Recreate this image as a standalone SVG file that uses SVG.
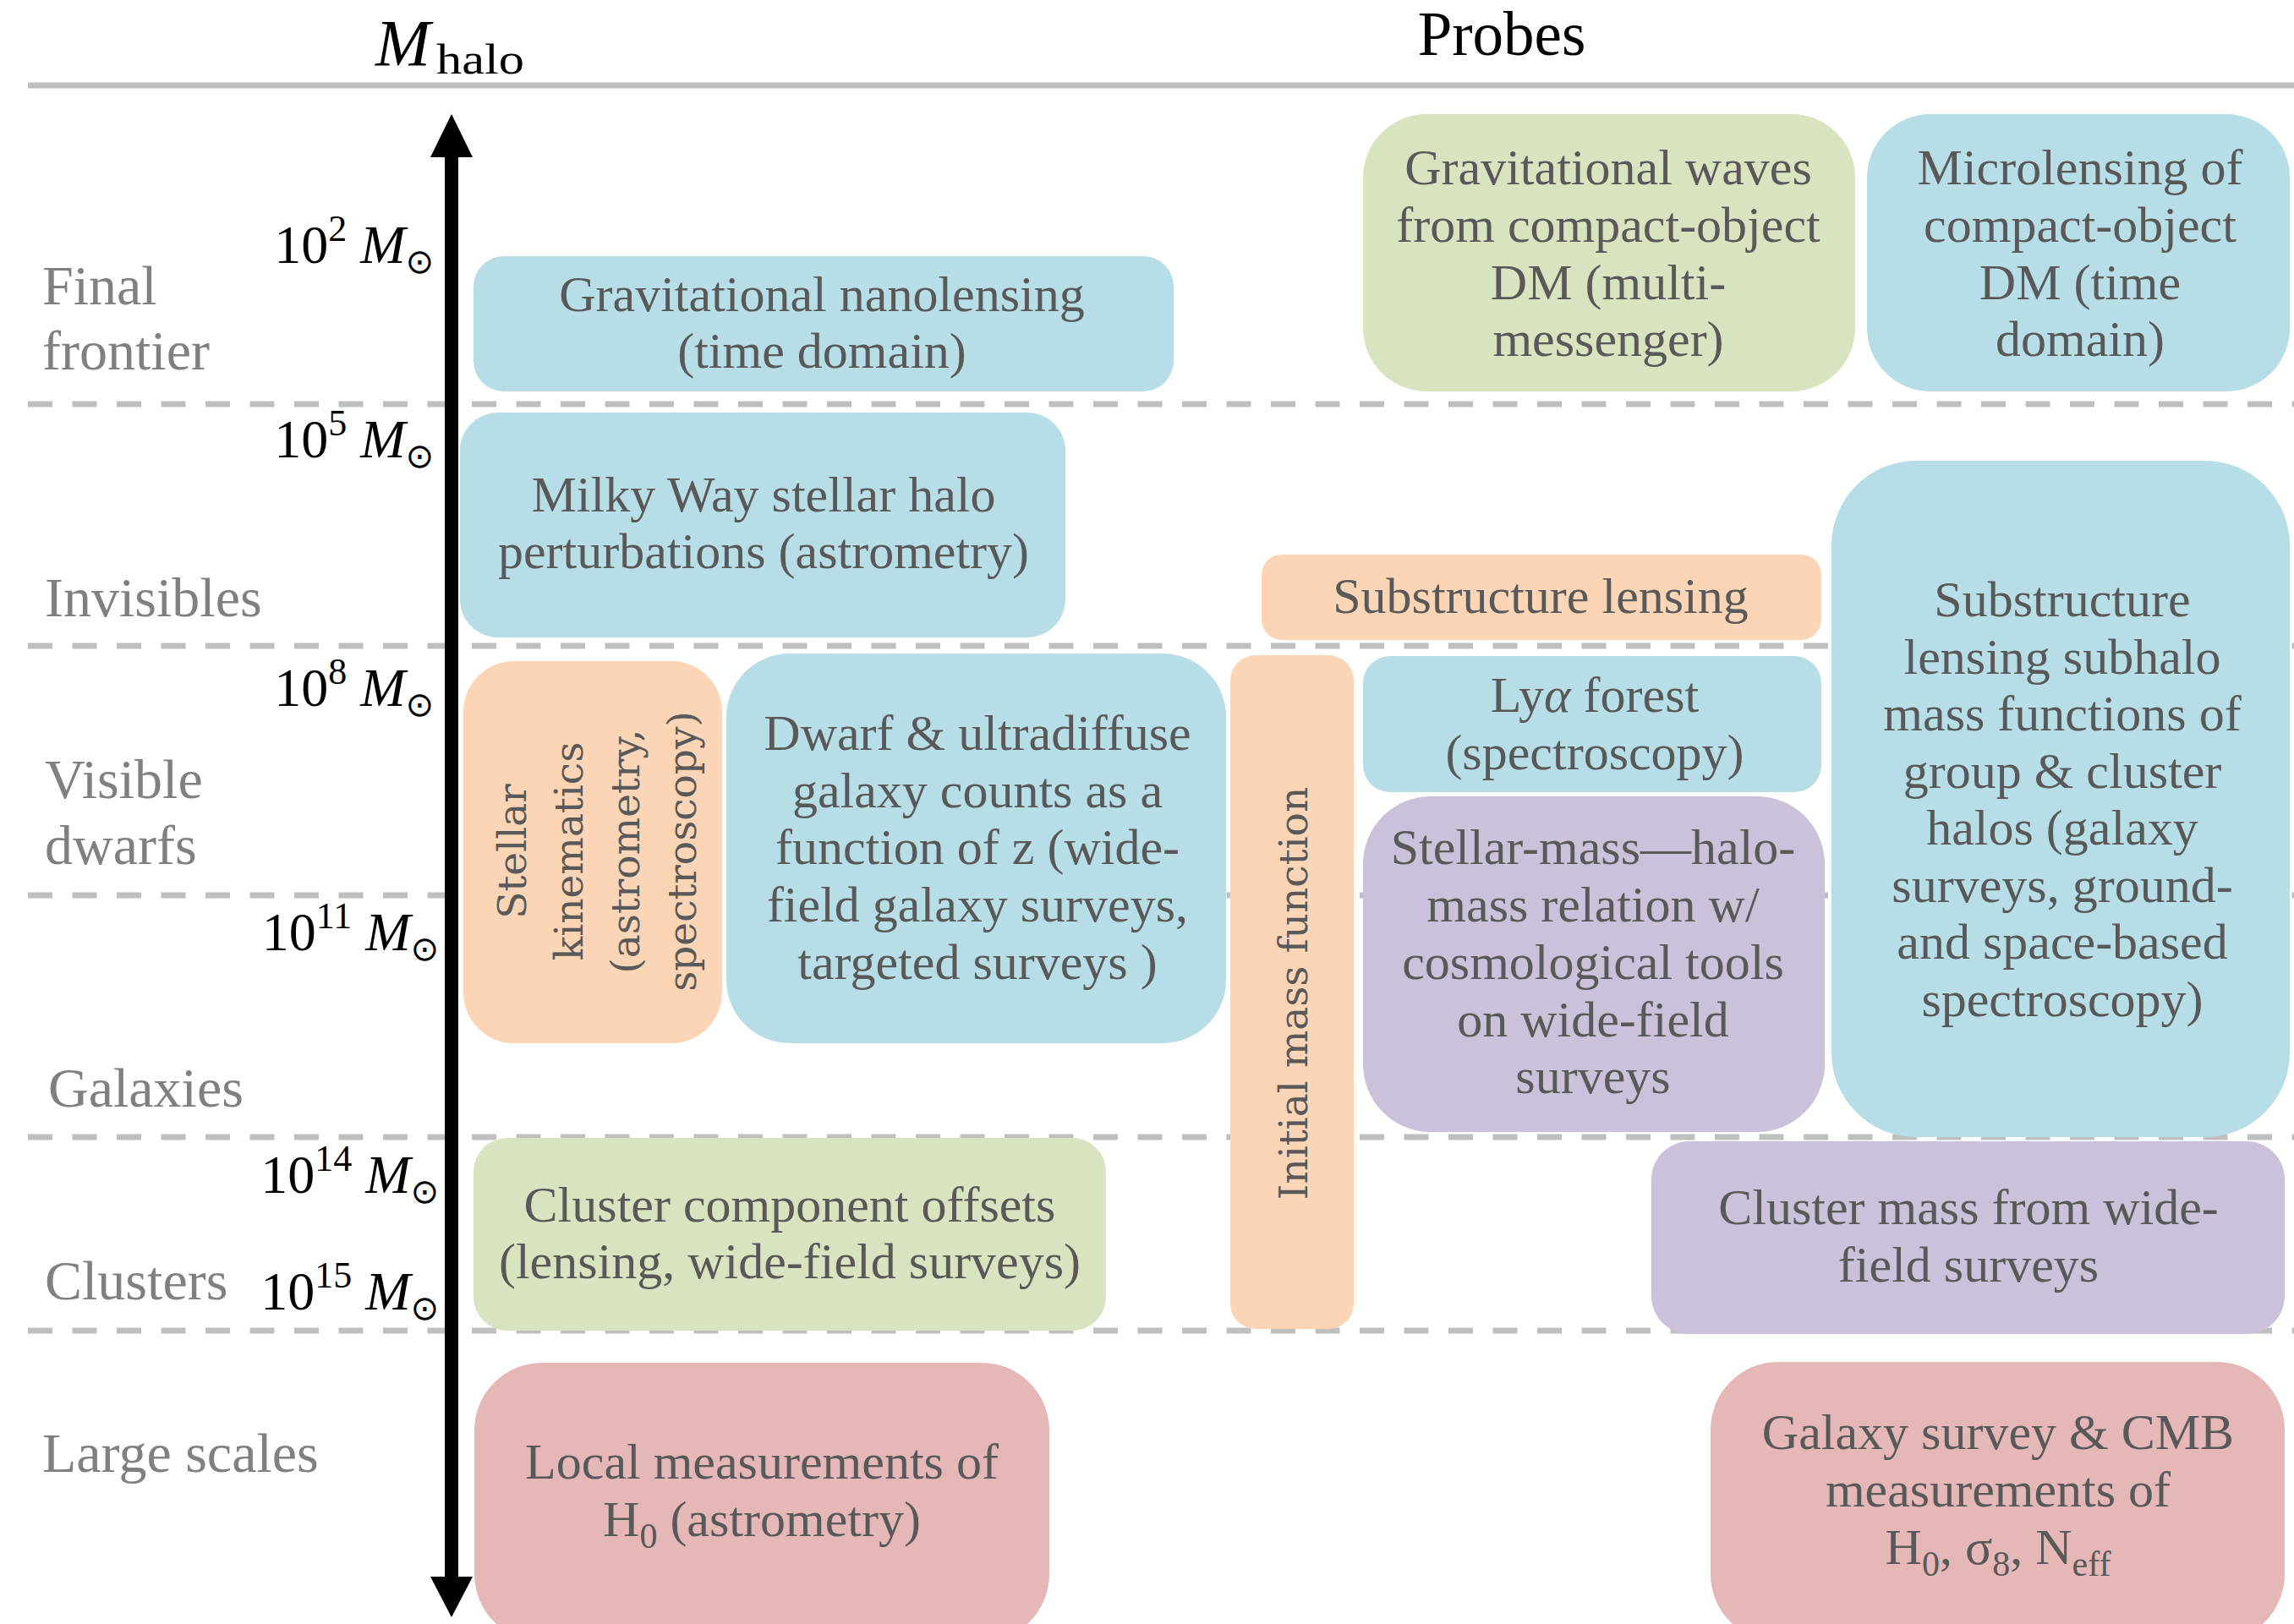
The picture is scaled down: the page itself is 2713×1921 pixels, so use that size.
<svg xmlns="http://www.w3.org/2000/svg" width="2713" height="1921" viewBox="0 0 2713 1921">
<style>
.bg{fill:#ffffff}
.blue{fill:#b7dde7}
.green{fill:#d8e4bf}
.orange{fill:#fbd5b5}
.purple{fill:#ccc1da}
.red{fill:#e5b8b7}
.t{font-family:"Liberation Serif","Times New Roman",serif;font-size:60px;fill:#595959;text-anchor:middle}
.r{font-family:"DejaVu Serif",serif;font-size:47px;fill:#595959;text-anchor:middle}
.sb{font-size:42px}
.lab{font-family:"Liberation Serif","Times New Roman",serif;font-size:66px;fill:#808080}
.mass{font-family:"Liberation Serif","Times New Roman",serif;font-size:64px;fill:#000;text-anchor:end}
.sup{font-size:44px}
.it{font-style:italic}
.sun{font-family:"DejaVu Sans",sans-serif;font-size:40px}
.dash{stroke:#bfbfbf;stroke-width:7;stroke-dasharray:29 23.5;fill:none}
.head{font-family:"Liberation Serif","Times New Roman",serif;fill:#000}
</style>
<rect class="bg" x="0" y="0" width="2713" height="1921"/>

<g id="header">
<line x1="33" y1="101" x2="2713" y2="101" stroke="#bfbfbf" stroke-width="7"/>
<text class="head" x="444" y="77" font-size="78" font-style="italic">M</text>
<text class="head" x="516" y="87" font-size="50" textLength="104" lengthAdjust="spacingAndGlyphs">halo</text>
<text class="head" x="1776" y="65" font-size="73" text-anchor="middle">Probes</text>
</g>

<g id="connectors">
<line class="dash" x1="33" y1="478" x2="2713" y2="478"/>
<line class="dash" x1="33" y1="764" x2="2713" y2="764"/>
<line class="dash" x1="33" y1="1059" x2="2713" y2="1059"/>
<line class="dash" x1="33" y1="1345" x2="2713" y2="1345"/>
<line class="dash" x1="33" y1="1574" x2="2713" y2="1574"/>
<g id="axis">
<rect x="526" y="184" width="16" height="1683" fill="#000"/>
<polygon points="534,135 559,186 509,186" fill="#000"/>
<polygon points="534,1913 559,1865 509,1865" fill="#000"/>
</g>
</g>

<g id="region-labels">
<text class="lab" x="50" y="360">Final</text>
<text class="lab" x="50" y="437">frontier</text>
<text class="lab" x="53" y="729">Invisibles</text>
<text class="lab" x="53" y="944">Visible</text>
<text class="lab" x="53" y="1022">dwarfs</text>
<text class="lab" x="57" y="1309">Galaxies</text>
<text class="lab" x="53" y="1537">Clusters</text>
<text class="lab" x="50" y="1741">Large scales</text>
</g>

<g id="mass-labels">
<text class="mass" x="513" y="311">10<tspan class="sup" dy="-26">2</tspan><tspan dy="26"> </tspan><tspan class="it">M</tspan><tspan class="sun" dy="12">⊙</tspan></text>
<text class="mass" x="513" y="541">10<tspan class="sup" dy="-26">5</tspan><tspan dy="26"> </tspan><tspan class="it">M</tspan><tspan class="sun" dy="12">⊙</tspan></text>
<text class="mass" x="513" y="835">10<tspan class="sup" dy="-26">8</tspan><tspan dy="26"> </tspan><tspan class="it">M</tspan><tspan class="sun" dy="12">⊙</tspan></text>
<text class="mass" x="519" y="1124">10<tspan class="sup" dy="-26">11</tspan><tspan dy="26"> </tspan><tspan class="it">M</tspan><tspan class="sun" dy="12">⊙</tspan></text>
<text class="mass" x="519" y="1411">10<tspan class="sup" dy="-26">14</tspan><tspan dy="26"> </tspan><tspan class="it">M</tspan><tspan class="sun" dy="12">⊙</tspan></text>
<text class="mass" x="519" y="1549">10<tspan class="sup" dy="-26">15</tspan><tspan dy="26"> </tspan><tspan class="it">M</tspan><tspan class="sun" dy="12">⊙</tspan></text>
</g>

<g id="node-nanolensing">
<rect class="blue" x="560" y="303" width="828" height="160" rx="36"/>
<text class="t" x="972" y="368">Gravitational nanolensing</text>
<text class="t" x="972" y="435">(time domain)</text>
</g>

<g id="node-gw">
<rect class="green" x="1612" y="135" width="582" height="328" rx="75"/>
<text class="t" x="1902" y="218">Gravitational waves</text>
<text class="t" x="1902" y="286">from compact-object</text>
<text class="t" x="1902" y="354">DM (multi-</text>
<text class="t" x="1902" y="421">messenger)</text>
</g>

<g id="node-microlensing">
<rect class="blue" x="2208" y="135" width="500" height="328" rx="75"/>
<text class="t" x="2460" y="218">Microlensing of</text>
<text class="t" x="2460" y="286">compact-object</text>
<text class="t" x="2460" y="354">DM (time</text>
<text class="t" x="2460" y="421">domain)</text>
</g>

<g id="node-milkyway">
<rect class="blue" x="544" y="488" width="716" height="266" rx="45"/>
<text class="t" x="903" y="605">Milky Way stellar halo</text>
<text class="t" x="903" y="672">perturbations (astrometry)</text>
</g>

<g id="node-substructure">
<rect class="orange" x="1492" y="656" width="662" height="101" rx="24"/>
<text class="t" x="1822" y="725">Substructure lensing</text>
</g>

<g id="node-subhalo-mf">
<rect class="blue" x="2166" y="545" width="542" height="800" rx="100"/>
<text class="t" x="2439" y="729">Substructure</text>
<text class="t" x="2439" y="797">lensing subhalo</text>
<text class="t" x="2439" y="864">mass functions of</text>
<text class="t" x="2439" y="932">group &amp; cluster</text>
<text class="t" x="2439" y="999">halos (galaxy</text>
<text class="t" x="2439" y="1067">surveys, ground-</text>
<text class="t" x="2439" y="1134">and space-based</text>
<text class="t" x="2439" y="1202">spectroscopy)</text>
</g>

<g id="node-stellar-kinematics">
<rect class="orange" x="548" y="782" width="306" height="452" rx="60"/>
<text class="r" transform="translate(622,1007) rotate(-90)">Stellar</text>
<text class="r" transform="translate(689,1007) rotate(-90)">kinematics</text>
<text class="r" transform="translate(756,1007) rotate(-90)">(astrometry,</text>
<text class="r" transform="translate(823,1007) rotate(-90)">spectroscopy)</text>
</g>

<g id="node-dwarf">
<rect class="blue" x="859" y="773" width="591" height="461" rx="75"/>
<text class="t" x="1156" y="887">Dwarf &amp; ultradiffuse</text>
<text class="t" x="1156" y="955">galaxy counts as a</text>
<text class="t" x="1156" y="1022">function of z (wide-</text>
<text class="t" x="1156" y="1090">field galaxy surveys,</text>
<text class="t" x="1156" y="1158">targeted surveys )</text>
</g>

<g id="node-imf">
<rect class="orange" x="1455" y="775" width="146" height="797" rx="30"/>
<text class="r" transform="translate(1546,1175) rotate(-90)">Initial mass function</text>
</g>

<g id="node-lya">
<rect class="blue" x="1612" y="776" width="542" height="161" rx="32"/>
<text class="t" x="1886" y="842">Ly<tspan class="it">α</tspan> forest</text>
<text class="t" x="1886" y="910">(spectroscopy)</text>
</g>

<g id="node-smhm">
<rect class="purple" x="1612" y="942" width="546" height="397" rx="80"/>
<text class="t" x="1884" y="1022">Stellar-mass—halo-</text>
<text class="t" x="1884" y="1090">mass relation w/</text>
<text class="t" x="1884" y="1158">cosmological tools</text>
<text class="t" x="1884" y="1226">on wide-field</text>
<text class="t" x="1884" y="1293">surveys</text>
</g>

<g id="node-cluster-offsets">
<rect class="green" x="560" y="1346" width="748" height="228" rx="40"/>
<text class="t" x="934" y="1445">Cluster component offsets</text>
<text class="t" x="934" y="1512">(lensing, wide-field surveys)</text>
</g>

<g id="node-cluster-mass">
<rect class="purple" x="1953" y="1350" width="749" height="228" rx="45"/>
<text class="t" x="2328" y="1448">Cluster mass from wide-</text>
<text class="t" x="2328" y="1516">field surveys</text>
</g>

<g id="node-local-h0">
<rect class="red" x="561" y="1612" width="680" height="330" rx="80"/>
<text class="t" x="901" y="1749">Local measurements of</text>
<text class="t" x="901" y="1817">H<tspan class="sb" dy="14">0</tspan><tspan dy="-14"> (astrometry)</tspan></text>
</g>

<g id="node-galaxy-cmb">
<rect class="red" x="2023" y="1611" width="679" height="331" rx="80"/>
<text class="t" x="2363" y="1714">Galaxy survey &amp; CMB</text>
<text class="t" x="2363" y="1782">measurements of</text>
<text class="t" x="2363" y="1850">H<tspan class="sb" dy="14">0</tspan><tspan dy="-14">, σ</tspan><tspan class="sb" dy="14">8</tspan><tspan dy="-14">, N</tspan><tspan class="sb" dy="14">eff</tspan></text>
</g>
</svg>
